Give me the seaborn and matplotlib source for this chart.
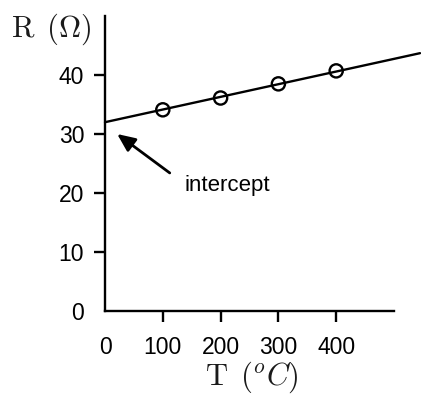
import matplotlib
matplotlib.use("Agg")
import matplotlib.pyplot as plt
import seaborn as sns
import pandas as pd

# Data
temps = [100, 200, 300, 400]
resist = [34.1, 36.1, 38.5, 40.7]
fit_T = [0, 545]
fit_R = [32.0, 43.7]
xtick_vals = [0, 100, 200, 300, 400]
ytick_vals = [0, 10, 20, 30, 40]
arrow_tip = (21, 30.0)
arrow_tail = (112, 23.4)
intercept_label = "intercept"
intercept_pos = (137, 21.2)

sns.set_theme(style="ticks")
plt.rcParams["font.family"] = ["Liberation Sans", "DejaVu Sans"]
plt.rcParams["mathtext.fontset"] = "cm"

fig = plt.figure(figsize=(4.21, 3.94), dpi=100)
W, H = 421, 394
left, right, top, bottom = 105, 394, 16, 311
ax = fig.add_axes([left / W, (H - bottom) / H, (right - left) / W, (bottom - top) / H])

pts = pd.DataFrame({"T": temps, "R": resist})
fit = pd.DataFrame({"T": fit_T, "R": fit_R})

sns.lineplot(data=fit, x="T", y="R", ax=ax, color="black", linewidth=1.7)
for l in ax.lines:
    l.set_clip_on(False)
sns.scatterplot(data=pts, x="T", y="R", ax=ax, marker="o", s=90,
                facecolor="none", edgecolor="black", linewidth=1.7, zorder=5)

ax.set_xlim(0, 500)
ax.set_ylim(0, 50)
ax.set_xticks(xtick_vals)
ax.set_yticks(ytick_vals)
ax.set_xticklabels([str(v) for v in xtick_vals])
ax.set_yticklabels([str(v) for v in ytick_vals])
ax.tick_params(axis="x", direction="out", length=8, width=1.7, pad=10,
               labelsize=16.5, colors="black")
ax.tick_params(axis="y", direction="out", length=8, width=1.7, pad=7,
               labelsize=16.5, colors="black")
ax.xaxis.get_major_ticks()[0].tick1line.set_visible(False)
ax.yaxis.get_major_ticks()[0].tick1line.set_visible(False)

for s in ["top", "right"]:
    ax.spines[s].set_visible(False)
for s in ["left", "bottom"]:
    ax.spines[s].set_linewidth(1.7)
    ax.spines[s].set_color("black")

ax.set_xlabel(r"$\mathrm{T}\ \,(^oC)$", fontsize=22, color="#1a1a1a")
ax.xaxis.set_label_coords(0.509, -0.225)
ax.xaxis.label.set_va("center")
ax.set_ylabel(r"$\mathrm{R}\ \,(\Omega)$", fontsize=22, color="#1a1a1a", rotation=0)
ax.yaxis.set_label_coords(-0.187, 0.955)
ax.yaxis.label.set_va("center")
ax.yaxis.label.set_ha("center")

ax.annotate("", xy=arrow_tip, xytext=arrow_tail,
            arrowprops=dict(arrowstyle="-|>,head_length=0.9,head_width=0.4",
                            color="black", lw=2.0, shrinkA=0, shrinkB=0))
ax.text(intercept_pos[0], intercept_pos[1], intercept_label, fontsize=16,
        ha="left", va="center", color="black")

fig.savefig("out.png", dpi=100)
